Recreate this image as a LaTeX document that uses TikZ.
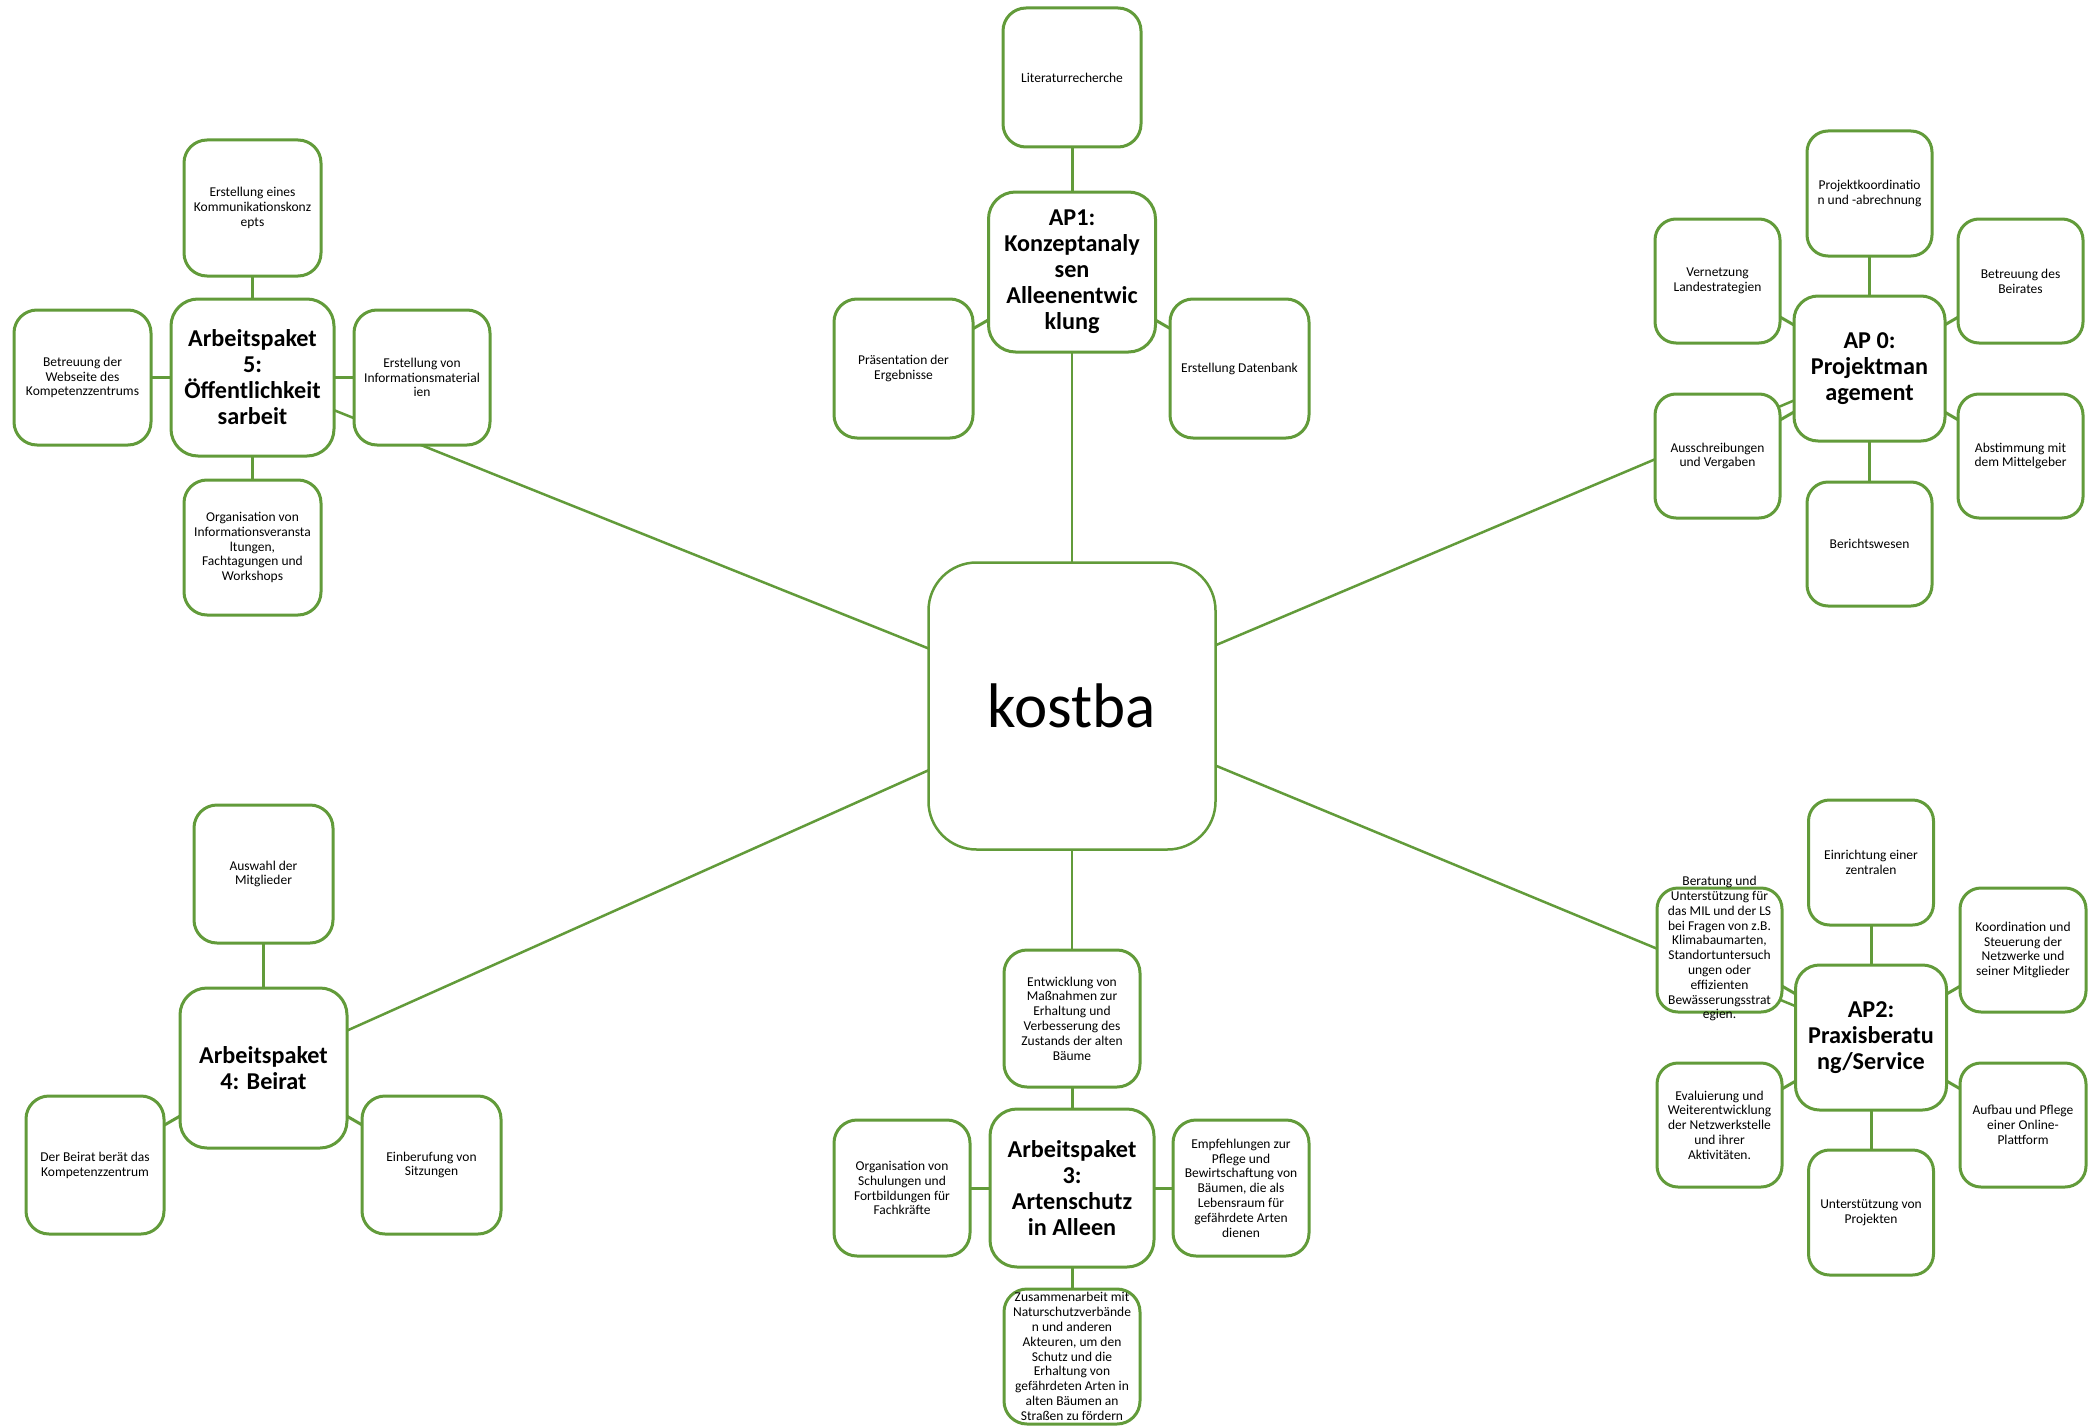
\documentclass[tikz,border=0pt]{standalone}
\usepackage{fontspec}
\setmainfont{Carlito}
\usetikzlibrary{backgrounds}
\definecolor{kgreen}{RGB}{98,155,58}

\begin{document}
\begin{tikzpicture}[x=1pt,y=-1pt,
	sub/.style={draw=kgreen,line width=3pt,fill=white,rounded corners=23pt,minimum width=137pt,minimum height=137pt,align=center,inner sep=1pt,font=\fontsize{13.5}{14.8}\selectfont},
	subsm/.style={sub,rounded corners=21pt,minimum width=125pt,minimum height=124pt},
	ap/.style={sub,rounded corners=27pt,minimum width=165pt,minimum height=159pt,font=\bfseries\fontsize{24.2}{26}\selectfont},
	apsm/.style={ap,rounded corners=24pt,minimum width=151pt,minimum height=145pt},
	link/.style={draw=kgreen,line width=3pt}]
		\useasboundingbox (0,0) rectangle (2096,1426);
		% the centre box
		\node [sub,rounded corners=48pt,minimum width=287pt,minimum height=287pt,line width=2.5pt,font=\fontsize{63}{70}\selectfont] (kostba) at (1072,706) {kostba};
		% AP1 at the top
		\node [ap,minimum width=167pt,minimum height=160pt] (ap1) at (1072,272) {AP1:\\Konzeptanaly\\sen\\Alleenentwic\\klung};
		\node [sub,minimum width=138pt,minimum height=139pt] (lit) at (1072,77.5) {Literaturrecherche};
		\node [sub,minimum width=139pt,minimum height=139pt] (praes) at (903.5,368.5) {Präsentation der\\Ergebnisse};
		\node [sub,minimum width=139pt,minimum height=139pt] (db) at (1239.5,368.5) {Erstellung Datenbank};
		% AP5 top left
		\node [ap,minimum width=163pt,minimum height=157pt] (ap5) at (252.5,377.5) {Arbeitspaket\\5:\\Öffentlichkeit\\sarbeit};
		\node [sub,minimum height=136pt] (komm) at (252.5,208) {Erstellung eines\\Kommunikationskonz\\epts};
		\node [sub,minimum height=135pt] (web) at (82.5,377.5) {Betreuung der\\Webseite des\\Kompetenzzentrums};
		\node [sub,minimum width=136pt,minimum height=135pt] (infomat) at (422,377.5) {Erstellung von\\Informationsmaterial\\ien};
		\node [sub,minimum height=135pt] (orgver) at (252.5,547.5) {Organisation von\\Informationsveransta\\ltungen,\\Fachtagungen und\\Workshops};
		% AP0 top right
		\node [apsm] (ap0) at (1869.5,368.5) {AP 0:\\Projektman\\agement};
		\node [subsm,minimum height=125pt] (pkoord) at (1869.5,193.5) {Projektkoordinatio\\n und -abrechnung};
		\node [subsm] (vernetz) at (1717.5,281) {Vernetzung\\Landestrategien};
		\node [subsm] (beirat) at (2020.5,281) {Betreuung des\\Beirates};
		\node [subsm] (aussch) at (1717.5,456) {Ausschreibungen\\und Vergaben};
		\node [subsm] (abst) at (2020.5,456) {Abstimmung mit\\dem Mittelgeber};
		\node [subsm] (bericht) at (1869.5,544) {Berichtswesen};
		% AP2 bottom right
		\node [apsm] (ap2) at (1871,1037.5) {AP2:\\Praxisberatu\\ng/Service};
		\node [subsm,minimum height=125pt] (einr) at (1871,862.5) {Einrichtung einer\\zentralen};
		\node [subsm] (berat) at (1719.5,950) {\smash{\raisebox{-3pt}{\begin{tabular}{@{}c@{}}Beratung und\\Unterstützung für\\das MIL und der LS\\bei Fragen von z.B.\\Klimabaumarten,\\Standortuntersuch\\ungen oder\\effizienten\\Bewässerungsstrat\\egien.\end{tabular}}}};
		\node [subsm,minimum width=126pt] (knetz) at (2023,950) {Koordination und\\Steuerung der\\Netzwerke und\\seiner Mitglieder};
		\node [subsm] (eval) at (1719.5,1125) {Evaluierung und\\Weiterentwicklung\\der Netzwerkstelle\\und ihrer\\Aktivitäten.};
		\node [subsm,minimum width=126pt] (aufbau) at (2023,1125) {Aufbau und Pflege\\einer Online-\\Plattform};
		\node [subsm,minimum height=125pt] (projekte) at (1871,1212.5) {Unterstützung von\\Projekten};
		% AP3 at the bottom
		\node [ap,minimum width=164pt,minimum height=158pt] (ap3) at (1072,1188) {Arbeitspaket\\3:\\Artenschutz\\in Alleen};
		\node [sub,minimum width=136pt] (entw) at (1072,1018.5) {Entwicklung von\\Maßnahmen zur\\Erhaltung und\\Verbesserung des\\Zustands der alten\\Bäume};
		\node [sub,minimum width=136pt,minimum height=136pt] (schul) at (902,1188) {Organisation von\\Schulungen und\\Fortbildungen für\\Fachkräfte};
		\node [sub,minimum width=136pt,minimum height=136pt] (empf) at (1241,1188) {Empfehlungen zur\\Pflege und\\Bewirtschaftung von\\Bäumen, die als\\Lebensraum für\\gefährdete Arten\\dienen};
		\node [sub,minimum width=136pt,minimum height=135pt] (zus) at (1072,1356.5) {Zusammenarbeit mit\\Naturschutzverbände\\n und anderen\\Akteuren, um den\\Schutz und die\\Erhaltung von\\gefährdeten Arten in\\alten Bäumen an\\Straßen zu fördern};
		% AP4 bottom left
		\node [ap,minimum width=167pt,minimum height=160pt] (ap4) at (263.5,1068) {Arbeitspaket\\4: Beirat};
		\node [sub,minimum width=139pt,minimum height=138pt] (ausw) at (263.5,874) {Auswahl der\\Mitglieder};
		\node [sub,minimum width=138pt,minimum height=138pt] (dbeirat) at (95,1165) {Der Beirat berät das\\Kompetenzzentrum};
		\node [sub,minimum width=139pt,minimum height=138pt] (einber) at (431.5,1165) {Einberufung von\\Sitzungen};
		% all lines go centre to centre, behind the boxes
		\begin{pgfonlayer}{background}
		\draw [link,line width=2.5pt] (kostba.center) -- (ap1.center);
		\draw [link,line width=2.5pt] (kostba.center) -- (ap0.center);
		\draw [link,line width=2.5pt] (kostba.center) -- (ap2.center);
		\draw [link,line width=2.5pt] (kostba.center) -- (ap3.center);
		\draw [link,line width=2.5pt] (kostba.center) -- (ap4.center);
		\draw [link,line width=2.5pt] (kostba.center) -- (ap5.center);
		\foreach \t in {lit,praes,db} \draw [link] (ap1.center) -- (\t.center);
		\foreach \t in {komm,web,infomat,orgver} \draw [link] (ap5.center) -- (\t.center);
		\foreach \t in {pkoord,vernetz,beirat,aussch,abst,bericht} \draw [link] (ap0.center) -- (\t.center);
		\foreach \t in {einr,berat,knetz,eval,aufbau,projekte} \draw [link] (ap2.center) -- (\t.center);
		\foreach \t in {entw,schul,empf,zus} \draw [link] (ap3.center) -- (\t.center);
		\foreach \t in {ausw,dbeirat,einber} \draw [link] (ap4.center) -- (\t.center);
		\end{pgfonlayer}
\end{tikzpicture}
\end{document}
